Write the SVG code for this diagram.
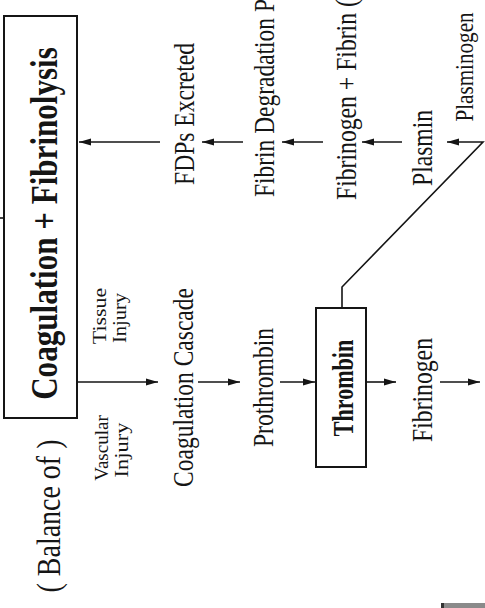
<svg xmlns="http://www.w3.org/2000/svg" width="485" height="608" viewBox="0 0 485 608">
<defs>
<style>
text{font-family:"Liberation Serif","DejaVu Serif",serif;fill:#151515}
.t{font-size:29px}
.s{font-size:19px}
.b{font-weight:bold}
.ln{stroke:#151515;stroke-width:1.6;fill:none}
.box{stroke:#151515;stroke-width:2;fill:none}
</style>
<marker id="ah" markerWidth="13" markerHeight="8" refX="12" refY="4" orient="auto" markerUnits="userSpaceOnUse">
<path d="M0,0.6 L12,4 L0,7.4 Z" fill="#151515"/>
</marker>
</defs>
<rect width="485" height="608" fill="#fff"/>

<g id="main-box">
<rect class="box" x="4" y="16" width="73" height="402"/>
<text class="b" font-size="38" text-anchor="middle" transform="translate(57,223.5) rotate(-90) scale(0.818,1)">Coagulation + Fibrinolysis</text>
</g>
<g id="balance">
<text font-size="33" text-anchor="middle" transform="translate(60,516) rotate(-90) scale(0.848,1)">( Balance of )</text>
</g>
<g id="tissue-injury">
<text class="s" text-anchor="middle" transform="translate(106,316) rotate(-90) scale(1.15,1)">Tissue</text>
<text class="s" text-anchor="middle" transform="translate(126,318) rotate(-90) scale(1.08,1)">Injury</text>
</g>
<g id="vascular-injury">
<text class="s" text-anchor="middle" transform="translate(108,448) rotate(-90)">Vascular</text>
<text class="s" text-anchor="middle" transform="translate(128,450) rotate(-90) scale(1.18,1)">Injury</text>
</g>
<g id="coag-cascade">
<text class="t" text-anchor="middle" transform="translate(193,387.5) rotate(-90) scale(0.81,1)">Coagulation Cascade</text>
</g>
<g id="prothrombin">
<text class="t" text-anchor="middle" transform="translate(273,387.5) rotate(-90) scale(0.812,1)">Prothrombin</text>
</g>
<g id="thrombin">
<rect class="box" x="316" y="308" width="50" height="159"/>
<text class="b" font-size="29" text-anchor="middle" transform="translate(353,388) rotate(-90) scale(0.762,1)">Thrombin</text>
</g>
<g id="fibrinogen">
<text class="t" text-anchor="middle" transform="translate(432,390) rotate(-90) scale(0.817,1)">Fibrinogen</text>
</g>
<g id="fdps-excreted">
<text class="t" text-anchor="middle" transform="translate(194,114) rotate(-90) scale(0.812,1)">FDPs Excreted</text>
</g>
<g id="fibrin-degradation">
<text class="t" transform="translate(274,197) rotate(-90) scale(0.809,1)">Fibrin Degradation P</text>
</g>
<g id="fibrinogen-fibrin">
<text class="t" transform="translate(356,200) rotate(-90) scale(0.817,1)">Fibrinogen + Fibrin (</text>
</g>
<g id="plasmin">
<text class="t" text-anchor="middle" transform="translate(432,148) rotate(-90) scale(0.813,1)">Plasmin</text>
</g>
<g id="plasminogen">
<text font-size="26" text-anchor="middle" transform="translate(473,67) rotate(-90) scale(0.813,1)">Plasminogen</text>
</g>

<g id="connectors">
<line class="ln" x1="77" y1="382" x2="158" y2="382" marker-end="url(#ah)"/>
<line class="ln" x1="198" y1="382" x2="240" y2="382" marker-end="url(#ah)"/>
<line class="ln" x1="280" y1="382" x2="315" y2="382" marker-end="url(#ah)"/>
<line class="ln" x1="366" y1="382" x2="396" y2="382" marker-end="url(#ah)"/>
<line class="ln" x1="440" y1="382" x2="480" y2="382" marker-end="url(#ah)"/>
<line class="ln" x1="160" y1="142" x2="79" y2="142" marker-end="url(#ah)"/>
<line class="ln" x1="243" y1="142" x2="202" y2="142" marker-end="url(#ah)"/>
<line class="ln" x1="323" y1="142" x2="282" y2="142" marker-end="url(#ah)"/>
<line class="ln" x1="402" y1="142" x2="362" y2="142" marker-end="url(#ah)"/>
<polyline class="ln" points="342,308 342,287 483,142 447,142" marker-end="url(#ah)"/>
<line class="ln" x1="0" y1="218" x2="4" y2="218"/>
</g>
<rect x="441" y="603" width="44" height="5" fill="#8a8a8a"/>
<rect x="441" y="603" width="3" height="5" fill="#333"/>
</svg>
